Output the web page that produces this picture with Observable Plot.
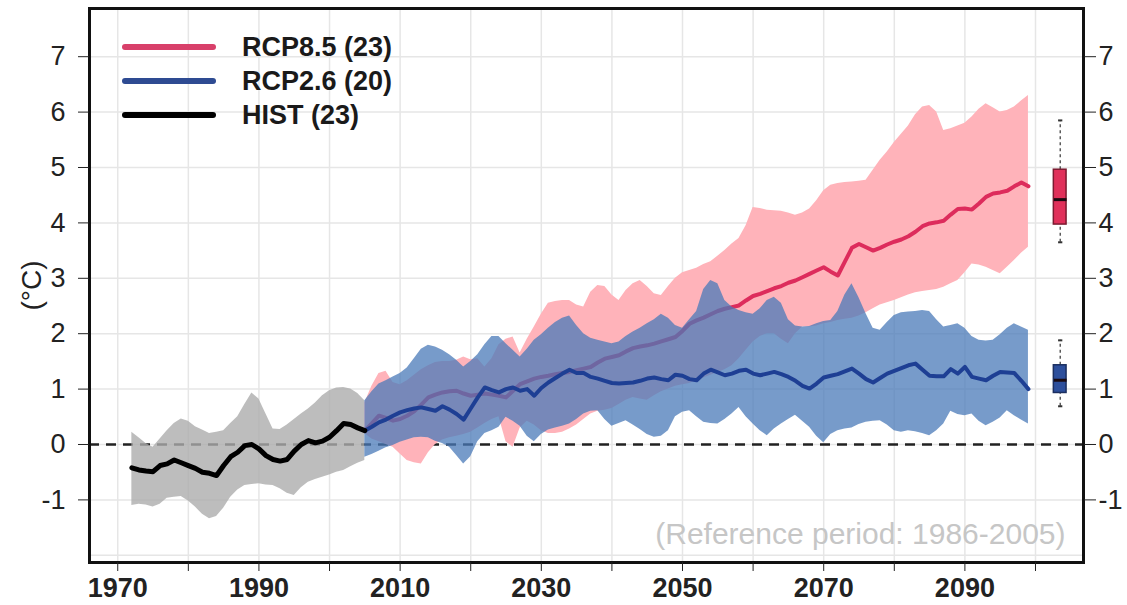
<!DOCTYPE html>
<html><head><meta charset="utf-8">
<script src="https://cdn.jsdelivr.net/npm/d3@7"></script>
<script src="https://cdn.jsdelivr.net/npm/@observablehq/plot@0.6"></script>
<style>
body{margin:0;background:#fff;}
#wrap{position:relative;width:1127px;height:605px;font-family:"Liberation Sans",Arial,sans-serif;}
#legend{position:absolute;left:122px;top:30px;}
.row{display:flex;align-items:center;height:34px;}
.sw{width:94px;height:6px;border-radius:3px;margin-right:26px;}
.lab{font-weight:bold;font-size:27px;color:#1a1a1a;line-height:34px;}
</style></head>
<body><div id="wrap"><div id="legend"></div></div>
<script>
// ---- data ----
const histStart = 1972;
const histMean = [-0.42,-0.46,-0.48,-0.49,-0.38,-0.35,-0.28,-0.33,-0.38,-0.43,-0.50,-0.52,-0.56,-0.38,-0.22,-0.14,-0.02,0.00,-0.08,-0.20,-0.27,-0.30,-0.27,-0.12,0.00,0.07,0.03,0.06,0.13,0.25,0.38,0.36,0.30,0.25];
const histHigh = [0.22,0.12,0.02,-0.05,0.10,0.25,0.38,0.46,0.42,0.32,0.26,0.20,0.22,0.25,0.38,0.50,0.72,0.93,0.82,0.55,0.28,0.27,0.35,0.45,0.55,0.64,0.75,0.88,0.97,1.02,1.03,1.00,0.92,0.79];
const histLow = [-1.10,-1.08,-1.09,-1.13,-1.08,-0.97,-0.95,-0.94,-1.02,-1.13,-1.26,-1.34,-1.30,-1.15,-0.95,-0.82,-0.74,-0.72,-0.71,-0.73,-0.74,-0.80,-0.88,-0.92,-0.78,-0.68,-0.63,-0.59,-0.55,-0.50,-0.47,-0.40,-0.34,-0.29];

const rcpStart = 2005;
const rcp85Mean = [0.25,0.38,0.52,0.48,0.43,0.46,0.52,0.60,0.72,0.85,
 0.90,0.94,0.96,0.97,0.92,0.88,0.90,0.92,0.90,0.88,
 0.85,0.97,1.09,1.14,1.19,1.22,1.24,1.27,1.29,1.31,
 1.34,1.37,1.40,1.48,1.55,1.58,1.61,1.68,1.74,1.77,
 1.79,1.82,1.86,1.90,1.94,2.05,2.18,2.24,2.29,2.35,
 2.41,2.45,2.48,2.51,2.60,2.68,2.72,2.77,2.82,2.86,
 2.92,2.96,3.02,3.08,3.14,3.20,3.12,3.05,3.30,3.55,
 3.62,3.56,3.50,3.55,3.61,3.66,3.70,3.76,3.84,3.94,
 3.99,4.01,4.04,4.15,4.25,4.26,4.24,4.35,4.47,4.53,
 4.55,4.58,4.66,4.73,4.66];
const rcp85High = [0.75,1.05,1.28,1.32,1.12,1.08,1.15,1.25,1.35,1.42,
 1.48,1.50,1.50,1.52,1.58,1.53,1.55,1.40,1.55,1.80,
 1.90,1.94,1.65,1.90,2.12,2.35,2.55,2.58,2.60,2.60,
 2.52,2.48,2.75,2.87,2.85,2.70,2.60,2.78,2.90,2.96,
 2.85,2.72,2.69,2.85,3.00,3.10,3.14,3.18,3.25,3.30,
 3.40,3.50,3.62,3.72,3.95,4.28,4.26,4.23,4.22,4.21,
 4.18,4.14,4.18,4.25,4.40,4.58,4.68,4.71,4.73,4.74,
 4.75,4.77,4.95,5.13,5.28,5.45,5.60,5.75,5.95,6.09,
 6.12,6.00,5.67,5.70,5.75,5.80,5.91,6.05,6.15,6.08,
 6.00,6.03,6.09,6.20,6.30];
const rcp85Low = [0.20,0.10,0.05,0.00,-0.05,-0.17,-0.29,-0.33,-0.35,-0.15,
 0.00,0.08,0.12,0.15,0.18,0.22,0.30,0.38,0.45,0.50,
 0.05,-0.05,0.30,0.42,0.35,0.25,0.20,0.20,0.22,0.28,
 0.35,0.45,0.55,0.60,0.62,0.65,0.72,0.80,0.85,0.82,
 0.80,0.88,0.95,1.00,1.05,1.08,1.10,1.15,1.20,1.25,
 1.30,1.35,1.42,1.55,1.70,1.85,1.95,2.00,2.00,1.90,
 1.82,2.00,2.12,2.12,2.14,2.18,2.20,2.24,2.26,2.28,
 2.32,2.38,2.45,2.52,2.56,2.60,2.65,2.70,2.74,2.76,
 2.78,2.80,2.84,2.90,2.96,3.10,3.26,3.24,3.20,3.14,
 3.08,3.20,3.32,3.45,3.56];
const rcp26Mean = [0.25,0.32,0.40,0.45,0.52,0.58,0.62,0.65,0.67,0.64,
 0.61,0.69,0.63,0.55,0.45,0.65,0.85,1.03,0.98,0.94,
 1.00,1.03,0.97,1.00,0.88,1.02,1.12,1.20,1.28,1.35,
 1.29,1.29,1.22,1.19,1.15,1.11,1.10,1.11,1.12,1.15,
 1.19,1.21,1.18,1.16,1.26,1.24,1.18,1.16,1.28,1.35,
 1.30,1.25,1.28,1.33,1.35,1.28,1.25,1.28,1.31,1.27,
 1.22,1.15,1.06,1.01,1.10,1.21,1.24,1.27,1.32,1.37,
 1.28,1.18,1.12,1.20,1.28,1.33,1.38,1.43,1.46,1.35,
 1.24,1.23,1.23,1.36,1.28,1.40,1.22,1.19,1.16,1.24,
 1.31,1.30,1.29,1.15,1.00];
const rcp26High = [0.79,0.95,1.09,1.15,1.22,1.28,1.38,1.55,1.72,1.79,
 1.76,1.70,1.62,1.52,1.40,1.50,1.62,1.80,1.95,1.95,
 1.82,1.70,1.58,1.72,1.88,1.98,2.10,2.20,2.28,2.32,
 2.15,2.00,1.92,1.88,1.85,1.82,1.85,1.95,2.03,2.10,
 2.18,2.25,2.35,2.28,2.15,2.10,2.25,2.40,2.80,2.96,
 2.90,2.60,2.48,2.42,2.38,2.35,2.45,2.60,2.66,2.55,
 2.25,2.14,2.12,2.13,2.18,2.22,2.24,2.40,2.70,2.90,
 2.65,2.36,2.10,2.06,2.20,2.33,2.38,2.39,2.40,2.42,
 2.40,2.25,2.12,2.15,2.18,2.10,1.95,1.88,1.87,1.88,
 1.98,2.10,2.18,2.12,2.06];
const rcp26Low = [-0.23,-0.18,-0.12,-0.06,-0.02,0.04,0.08,0.12,0.13,0.12,
 0.06,0.02,-0.05,-0.20,-0.35,-0.22,0.05,0.20,0.25,0.31,
 0.49,0.42,0.33,0.15,0.05,0.18,0.26,0.30,0.33,0.37,
 0.45,0.55,0.60,0.61,0.45,0.33,0.38,0.43,0.35,0.27,
 0.18,0.13,0.15,0.25,0.50,0.58,0.61,0.50,0.40,0.38,
 0.37,0.45,0.55,0.67,0.50,0.37,0.25,0.16,0.28,0.37,
 0.45,0.53,0.42,0.31,0.15,0.03,0.18,0.25,0.28,0.30,
 0.36,0.40,0.42,0.43,0.35,0.25,0.22,0.25,0.23,0.20,
 0.16,0.25,0.37,0.60,0.54,0.52,0.55,0.42,0.34,0.40,
 0.48,0.61,0.52,0.44,0.37];

// box plots for 2080-2099: [min, q1, median, q3, max]
const box85 = [3.65, 3.97, 4.42, 4.96, 5.85];
const box26 = [0.69, 0.93, 1.16, 1.43, 1.88];
const boxYear = 2103.5;

const yTicks = [-1, 0, 1, 2, 3, 4, 5, 6, 7];
const yGrid = [-2, -1, 0, 1, 2, 3, 4, 5, 6, 7];
const xTicks = [1970, 1980, 1990, 2000, 2010, 2020, 2030, 2040, 2050, 2060, 2070, 2080, 2090, 2100];
const xLabels = [1970, 1990, 2010, 2030, 2050, 2070, 2090];

const legendItems = [
  {label: "RCP8.5 (23)", color: "#d8406a"},
  {label: "RCP2.6 (20)", color: "#2e4b92"},
  {label: "HIST (23)", color: "#000000"}
];
const refText = "(Reference period: 1986-2005)";
const yLabel = "(°C)";

// ---- tables ----
const hist = histMean.map((v, i) => ({year: histStart + i, mean: v, lo: histLow[i], hi: histHigh[i]}));
const r85 = rcp85Mean.map((v, i) => ({year: rcpStart + i, mean: v, lo: rcp85Low[i], hi: rcp85High[i]}));
const r26 = rcp26Mean.map((v, i) => ({year: rcpStart + i, mean: v, lo: rcp26Low[i], hi: rcp26High[i]}));
const toBox = (b) => [{min: b[0], q1: b[1], med: b[2], q3: b[3], max: b[4]}];

const RED = "#dd2c5c", PINK = "#ffb3ba", BLUE = "#1e3f94", BLUEBAND = "#4a7ab8";

function boxMarks(b, fill, edge) {
  const d = toBox(b);
  const hw = 0.9, cw = 0.3;
  return [
    Plot.ruleX(d, {x: () => boxYear, y1: "q3", y2: "max", stroke: "#333", strokeWidth: 1.2, strokeDasharray: "3,3"}),
    Plot.ruleX(d, {x: () => boxYear, y1: "min", y2: "q1", stroke: "#333", strokeWidth: 1.2, strokeDasharray: "3,3"}),
    Plot.link(d, {x1: () => boxYear - cw, x2: () => boxYear + cw, y1: "max", y2: "max", stroke: "#333", strokeWidth: 2}),
    Plot.link(d, {x1: () => boxYear - cw, x2: () => boxYear + cw, y1: "min", y2: "min", stroke: "#333", strokeWidth: 2}),
    Plot.rect(d, {x1: () => boxYear - hw, x2: () => boxYear + hw, y1: "q1", y2: "q3", fill, stroke: edge, strokeWidth: 1.5}),
    Plot.link(d, {x1: () => boxYear - hw, x2: () => boxYear + hw, y1: "med", y2: "med", stroke: "#1a0a10", strokeWidth: 3})
  ];
}

const chart = Plot.plot({
  width: 1127, height: 605,
  marginLeft: 89, marginRight: 44, marginTop: 8, marginBottom: 43,
  x: {domain: [1966, 2106.8]},
  y: {domain: [-2.13, 7.87]},
  style: {fontFamily: "'Liberation Sans', Arial, sans-serif", fontSize: "27px", background: "white", color: "#222", overflow: "visible"},
  marks: [
    Plot.gridX({ticks: xTicks, stroke: "#e6e6e6", strokeOpacity: 1, strokeWidth: 1.5}),
    Plot.gridY({ticks: yGrid, stroke: "#e6e6e6", strokeOpacity: 1, strokeWidth: 1.5}),
    Plot.ruleY([0], {stroke: "#222", strokeWidth: 2.5, strokeDasharray: "10,7"}),
    Plot.areaY(hist, {x: "year", y1: "lo", y2: "hi", fill: "#adadad", fillOpacity: 0.8}),
    Plot.areaY(r85, {x: "year", y1: "lo", y2: "hi", fill: PINK}),
    Plot.line(r85, {x: "year", y: "mean", stroke: RED, strokeWidth: 4, strokeLinejoin: "round"}),
    Plot.areaY(r26, {x: "year", y1: "lo", y2: "hi", fill: BLUEBAND, fillOpacity: 0.75}),
    Plot.line(r26, {x: "year", y: "mean", stroke: BLUE, strokeWidth: 4, strokeLinejoin: "round"}),
    Plot.line(hist, {x: "year", y: "mean", stroke: "#000", strokeWidth: 5, strokeLinejoin: "round"}),
    ...boxMarks(box85, "#e0305a", "#7a1a30"),
    ...boxMarks(box26, "#2d4f9c", "#1c2f60"),
    Plot.frame({stroke: "#111", strokeWidth: 3}),
    Plot.axisY({anchor: "left", ticks: yTicks, tickFormat: (d) => String(d), tickSize: 11, tickPadding: 13, label: null, fontSize: 27}),
    Plot.axisY({anchor: "right", ticks: yTicks, tickFormat: (d) => String(d), tickSize: 12, tickPadding: 3, label: null, fontSize: 27}),
    Plot.axisX({anchor: "bottom", ticks: xTicks, tickFormat: (d) => xLabels.includes(d) ? String(d) : "", tickSize: 9, tickPadding: 6, label: null, fontSize: 27, fontWeight: "bold"}),
    Plot.text([refText], {text: (d) => d, frameAnchor: "bottom-right", dx: -18, dy: -19, fill: "#c6c6c6", fontSize: 30}),
    Plot.text([yLabel], {text: (d) => d, frameAnchor: "left", dx: -57, rotate: -90, textAnchor: "middle", lineAnchor: "middle", fill: "#222", fontSize: 28})
  ]
});

const wrap = document.getElementById("wrap");
wrap.insertBefore(chart, wrap.firstChild);
const legend = document.getElementById("legend");
for (const it of legendItems) {
  const row = document.createElement("div");
  row.className = "row";
  const sw = document.createElement("span");
  sw.className = "sw";
  sw.style.background = it.color;
  const lab = document.createElement("span");
  lab.className = "lab";
  lab.textContent = it.label;
  row.appendChild(sw); row.appendChild(lab);
  legend.appendChild(row);
}
</script></body></html>
